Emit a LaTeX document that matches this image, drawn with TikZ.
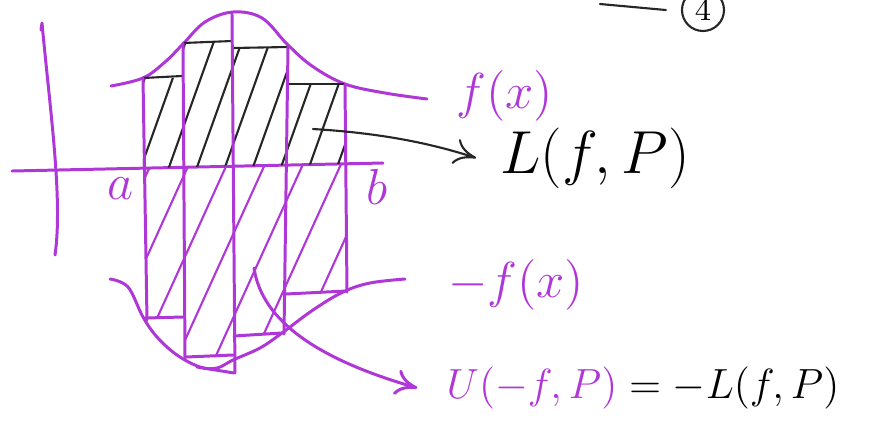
\documentclass[tikz,border=0pt]{standalone}
\usetikzlibrary{arrows.meta}

\definecolor{penviolet}{RGB}{175,55,215}

\tikzset{
  violet line/.style={draw=penviolet, line width=0.85pt, line cap=round, line join=round},
  ink line/.style={draw=black!85, line width=0.6pt, line cap=round, line join=round},
  hand/.style={font=\Large, inner sep=1pt},
  >={To[length=2.2mm, width=2.6mm]}
}

\begin{document}
\begin{tikzpicture}[x=0.1mm, y=-0.1mm]
  \useasboundingbox (0,0) rectangle (870,423);

  % Osie
  \draw[violet line] (41,30) -- (42,23) .. controls (50,110) and (63,200) .. (55,255);
  \draw[violet line] (12,171) -- (383,163);

  % Krzywa f(x)
  \draw[violet line] plot[smooth, tension=0.6] coordinates
    {(111,86) (143,78) (165,62) (183,44) (205,22) (233,12) (262,18)
     (287,44) (312,66) (345,84) (385,93) (427,99)};

  % Kreskowanie L(f,P)
  \begin{scope}
    \clip (143,168) -- (143,78) -- (183,78) -- (183,42) -- (233,42) -- (233,47)
      -- (287,47) -- (287,84) -- (345,84) -- (345,164) -- cycle;
    \foreach \s in {112,140,...,340}
      \draw[ink line] (\s,170) -- ++(60,-168);
  \end{scope}

  % Prostokaty sumy dolnej
  \draw[ink line] (143,78) -- (182,76);
  \draw[ink line] (183,43) -- (232,41);
  \draw[ink line] (232,48) -- (288,47);
  \draw[ink line] (288,84) -- (345,84);

  % Podzial P
  \draw[violet line] (143,78) -- (147,320);
  \draw[violet line] (183,43) -- (185,358);
  \draw[violet line] (232,14) -- (235,373);
  \draw[violet line] (288,47) -- (284,334);
  \draw[violet line] (345,84) -- (347,292);

  % Krzywa -f(x)
  \draw[violet line] plot[smooth, tension=0.6] coordinates
    {(110,279) (128,287) (143,317) (157,337) (177,355) (200,367) (217,368)
     (233,360) (260,348) (282,333) (313,310) (343,292) (370,283) (405,279)};

  % Prostokaty U(-f,P)
  \draw[violet line] (145,318) -- (183,317);
  \draw[violet line] (186,357) -- (233,355);
  \draw[violet line] (197,367) -- (234,373);
  \draw[violet line] (234,336) -- (282,333);
  \draw[violet line] (286,294) -- (346,291);

  % Kreskowanie U(-f,P)
  \begin{scope}
    \clip (145,167) -- (146,318) -- (185,318) -- (185,357) -- (234,357) -- (234,335)
      -- (284,335) -- (284,293) -- (347,293) -- (346,163) -- cycle;
    \foreach \s in {62,100,...,340}
      \draw[violet line, line width=0.6pt] (\s,360) -- ++(90,-198);
  \end{scope}

  % Etykiety
  \node[hand, text=penviolet] (a) at (121,189) {$a$};
  \node[hand, text=penviolet] (b) at (377,187) {$b$};
  \node[hand, text=penviolet] (fx) at (505,96) {$f(x)$};
  \node[hand, text=penviolet] (mfx) at (516,285) {$-f(x)$};
  \node[hand, font=\LARGE] (low) at (595,158) {$L(f,P)$};
  \node[hand, font=\large] (upp) at (643,388)
    {$\textcolor{penviolet}{U(-f,P)} = -L(f,P)$};

  % Strzalki
  \coordinate (hatchpt) at (313,129);
  \draw[ink line, ->] (hatchpt) .. controls (380,133) and (430,143) .. ([xshift=-2mm]low.west);
  \coordinate (lowpt) at (254,268);
  \draw[violet line, ->] (lowpt) .. controls (262,322) and (320,360) .. ([xshift=-2.5mm]upp.west);

  % Numer
  \node[circle, draw=black!85, line width=0.6pt, minimum size=4.2mm, inner sep=0pt,
    font=\small] (four) at (703,10) {4};
  \coordinate (ref) at (600,4);
  \draw[ink line] (ref) -- ([xshift=-1.5mm]four.west);
\end{tikzpicture}
\end{document}
